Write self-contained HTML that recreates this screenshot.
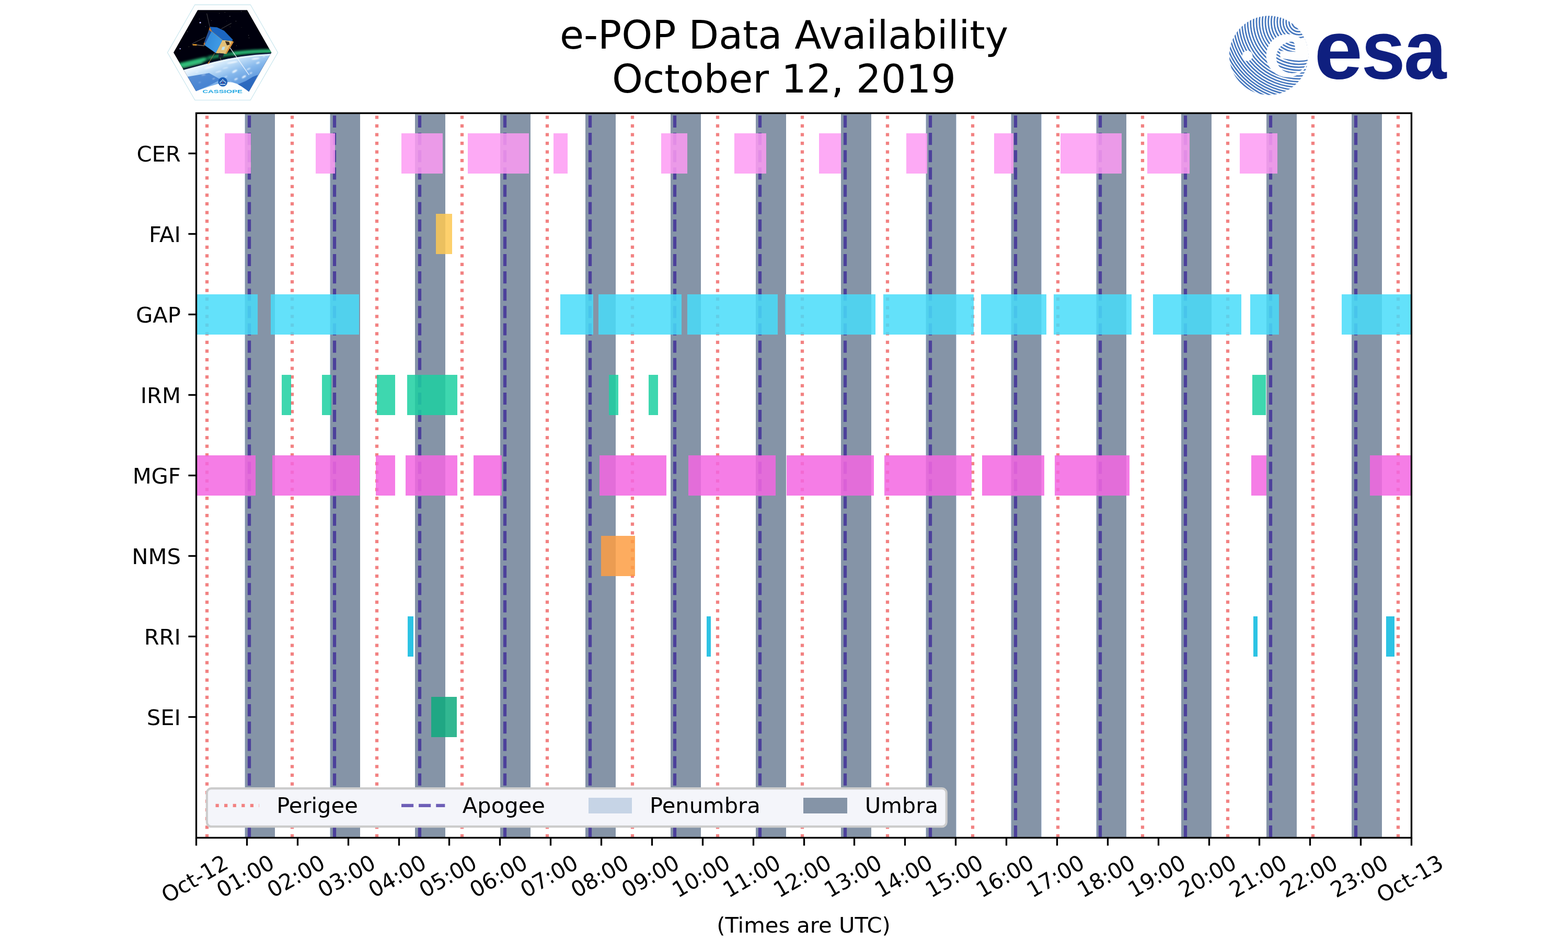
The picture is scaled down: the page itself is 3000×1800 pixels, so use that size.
<!DOCTYPE html>
<html lang="en"><head><meta charset="utf-8"><title>e-POP Data Availability - October 12, 2019</title>
<style>html,body{margin:0;padding:0;background:#fff}svg{display:block}text{font-family:"DejaVu Sans","Liberation Sans",sans-serif;fill:#000}</style></head>
<body><svg xmlns="http://www.w3.org/2000/svg" width="3000" height="1800" viewBox="0 0 3000 1800">
<rect x="0" y="0" width="3000" height="1800" fill="#ffffff"/>
<g id="cassiope">
<defs>
<clipPath id="hexin"><polygon points="332,100.4 378.3,19.2 472.9,19.2 519.3,100.4 476.1,175.4 375.1,174.6"/></clipPath>
<linearGradient id="earthg" gradientUnits="userSpaceOnUse" x1="420" y1="112" x2="445" y2="180"><stop offset="0" stop-color="#eef7fe"/><stop offset="0.2" stop-color="#c4e0f8"/><stop offset="0.5" stop-color="#86b8ec"/><stop offset="1" stop-color="#4a88d6"/></linearGradient>
<linearGradient id="panelg" x1="0" y1="0" x2="1" y2="0.3"><stop offset="0" stop-color="#2f86d6"/><stop offset="1" stop-color="#3f9be6"/></linearGradient>
<filter id="soft" x="-5%" y="-5%" width="110%" height="110%"><feGaussianBlur stdDeviation="0.7"/></filter>
<filter id="soft2" x="-20%" y="-20%" width="140%" height="140%"><feGaussianBlur stdDeviation="2.2"/></filter>
<filter id="soft3" x="-20%" y="-20%" width="140%" height="140%"><feGaussianBlur stdDeviation="1.1"/></filter>
</defs>
<polygon points="320.4,100.4 372.9,9.1 479.2,9.1 531.6,100.4 479.2,191.5 372.9,191.5" fill="#fefefe" stroke="#c4e4ec" stroke-width="1.1"/>
<g clip-path="url(#hexin)">
<g filter="url(#soft)">
<rect x="325" y="12" width="200" height="170" fill="#03040a"/>
<circle cx="383.1" cy="43.3" r="1.5" fill="#b9b6ff"/>
<circle cx="344.7" cy="93.2" r="1.2" fill="#a9a6f0"/>
<circle cx="439.8" cy="31.2" r="0.7" fill="#8a8a9a"/>
<circle cx="451.5" cy="40.5" r="0.6" fill="#77788a"/>
<circle cx="430.2" cy="23.5" r="0.5" fill="#777"/>
<circle cx="419.6" cy="25.6" r="0.5" fill="#666"/>
<circle cx="461.5" cy="21.8" r="0.6" fill="#777"/>
<circle cx="358.4" cy="60.6" r="0.6" fill="#777"/>
<circle cx="393.1" cy="50.8" r="0.6" fill="#666"/>
<circle cx="475.6" cy="67.5" r="0.6" fill="#888"/>
<circle cx="476.5" cy="72.6" r="0.5" fill="#777"/>
<circle cx="452.4" cy="87.4" r="0.5" fill="#777"/>
<circle cx="381.4" cy="36.2" r="0.5" fill="#666"/>
<circle cx="404.6" cy="39.3" r="0.5" fill="#666"/>
<circle cx="440.3" cy="51" r="0.5" fill="#666"/>
<circle cx="361.4" cy="89.3" r="0.5" fill="#666"/>
<circle cx="462" cy="52.5" r="0.4" fill="#555"/>
<circle cx="433.6" cy="40.6" r="0.4" fill="#555"/>
</g>
<g filter="url(#soft2)" fill="none" stroke-linecap="round">
<path d="M330 127 C 360 120, 400 110, 440 104 S 500 98, 525 98" stroke="#0c6f45" stroke-width="7" opacity="0.9"/>
<path d="M336 127 C 350 124, 370 119, 390 114" stroke="#2fc47c" stroke-width="8" opacity="0.95"/>
<path d="M350 129 C 362 126, 374 123, 386 120" stroke="#49d08c" stroke-width="3.5" opacity="0.8"/>
<path d="M448 102 C 470 99.5, 495 98, 522 97.5" stroke="#2cc27a" stroke-width="6.5" opacity="0.95"/>
<path d="M400 109 C 415 106, 430 104, 445 102" stroke="#1f9f63" stroke-width="4" opacity="0.8"/>
</g>
<g filter="url(#soft)">
<path d="M340 137.5 L353.8 132.9 L382.2 125.6 L408.9 118.6 L435.6 112.4 L462.3 107.9 L489 104.8 L525 102.2 L525 185 L340 185 Z" fill="#0a1430" transform="translate(0,-2.2)"/>
<path d="M340 137.5 L353.8 132.9 L382.2 125.6 L408.9 118.6 L435.6 112.4 L462.3 107.9 L489 104.8 L525 102.2 L525 185 L340 185 Z" fill="url(#earthg)"/>
<path d="M340 137.5 L353.8 132.9 L382.2 125.6 L408.9 118.6 L435.6 112.4 L462.3 107.9 L489 104.8 L525 102.2" fill="none" stroke="#e9f5ff" stroke-width="2.6" opacity="0.9" transform="translate(0,2)"/>
<polygon points="493.41,143.36 483.63,146.91 470.29,154.92 453.5,162 468,172 476.07,175.37" fill="#2a66bd" opacity="0.95"/>
<polygon points="357.35,146.91 400.04,139.8 422.27,152.25 400.04,163.81 375.14,174.48" fill="#3b78cc" opacity="0.8"/>
</g>
<g filter="url(#soft3)" fill="#f3f9ff">
<ellipse cx="400.04" cy="129.13" rx="9.78" ry="1.42" transform="rotate(-15 400.04 129.13)" opacity="0.95"/>
<ellipse cx="444.5" cy="119.35" rx="10.67" ry="1.42" transform="rotate(-11 444.5 119.35)" opacity="0.95"/>
<ellipse cx="488.96" cy="112.23" rx="8" ry="1.42" transform="rotate(-7 488.96 112.23)" opacity="0.95"/>
<ellipse cx="417.82" cy="137.13" rx="6.22" ry="1" transform="rotate(-16 417.82 137.13)" opacity="0.85"/>
<ellipse cx="448.95" cy="136.24" rx="5.34" ry="1.99" transform="rotate(-30 448.95 136.24)" opacity="0.9"/>
<ellipse cx="466.73" cy="146.91" rx="4.45" ry="1.71" transform="rotate(-32 466.73 146.91)" opacity="0.95"/>
<ellipse cx="389.36" cy="143.36" rx="4" ry="0.71" transform="rotate(-12 389.36 143.36)" opacity="0.75"/>
<ellipse cx="493.41" cy="120.24" rx="3.56" ry="1.71" transform="rotate(-20 493.41 120.24)" opacity="0.8"/>
<ellipse cx="451.61" cy="151.36" rx="3.56" ry="1.42" transform="rotate(-28 451.61 151.36)" opacity="0.9"/>
<ellipse cx="376.91" cy="138.02" rx="3.11" ry="0.71" transform="rotate(-12 376.91 138.02)" opacity="0.75"/>
<ellipse cx="432.05" cy="146.91" rx="3.11" ry="0.85" transform="rotate(-25 432.05 146.91)" opacity="0.8"/>
<ellipse cx="504.97" cy="107.79" rx="2.67" ry="0.85" transform="rotate(-5 504.97 107.79)" opacity="0.85"/>
<ellipse cx="431.16" cy="130.02" rx="5.34" ry="0.85" transform="rotate(-14 431.16 130.02)" opacity="0.8"/>
<ellipse cx="475.62" cy="131.8" rx="4" ry="1.28" transform="rotate(-25 475.62 131.8)" opacity="0.8"/>
<ellipse cx="408.93" cy="150.47" rx="2.67" ry="0.71" transform="rotate(-20 408.93 150.47)" opacity="0.6"/>
<ellipse cx="480.07" cy="139.8" rx="2.67" ry="1.14" transform="rotate(-30 480.07 139.8)" opacity="0.85"/>
<ellipse cx="382.25" cy="157.59" rx="2.22" ry="0.57" transform="rotate(-15 382.25 157.59)" opacity="0.5"/>
<ellipse cx="440.05" cy="157.59" rx="2.67" ry="0.85" transform="rotate(-25 440.05 157.59)" opacity="0.7"/>
</g>
<g filter="url(#soft)">
<g stroke="#8a8a86" stroke-width="0.55" fill="none">
<path d="M401.37 51.13L395.59 25.79"/>
<path d="M423.16 55.14L442.72 44.46"/>
<path d="M392.48 71.14L367.13 84.04"/>
</g>
<path d="M391.14 87.59L373.36 85.55" stroke="#d9c7a0" stroke-width="0.8" fill="none"/>
<path d="M375.58 85.9L369.36 85.55" stroke="#ffab2e" stroke-width="2.2" stroke-linecap="round" fill="none"/>
<path d="M410.71 101.56L398.7 121.12" stroke="#b97b52" stroke-width="0.9" fill="none"/>
<path d="M400.48 118.46L398.08 121.84" stroke="#e08a2a" stroke-width="1.8" stroke-linecap="round" fill="none"/>
<path d="M419.6 105.12L423.16 115.79" stroke="#b99a7a" stroke-width="0.7" fill="none"/>
<path d="M438.27 88.93L476.51 143.36" stroke="#f4f8ff" stroke-width="1.5" opacity="0.85" fill="none"/>
<polygon points="401.37,51.13 405.55,59.76 391.32,86.44 389.19,85.19 398.43,61.36" fill="#c97a2e"/>
<polygon points="400.04,56.91 404.48,61.36 392.48,83.59 391.14,80.04" fill="#1d4f9c"/>
<polygon points="425.38,76.48 444.5,78.61 446.99,80.21 433.12,103.33 412.49,101.56" fill="#e2c078"/>
<polygon points="430.72,78.7 438.27,80.04 439.61,85.37 434.27,86.71" fill="#3a2a1a"/>
<polygon points="425.38,89.82 430.72,88.93 428.94,95.6 423.6,95.6" fill="#bfe3f5"/>
<polygon points="444.5,78.61 446.99,80.21 433.12,103.33 431.16,102.27" fill="#d98d35"/>
<polygon points="405.1,59.58 425.82,76.48 412.66,101.56 391.14,86.26" fill="url(#panelg)"/>
<polygon points="401.37,51.13 415.15,52.29 428.94,58.87 445.57,76.03 444.32,78.61 425.65,76.48 405.37,59.58" fill="#1a66c0"/>
<path d="M405.37 59.76L425.65 76.66" stroke="#e9a050" stroke-width="0.5" fill="none"/>
<polygon points="418.71,101.56 428.49,102.45 426.71,109.12 417.82,110.9" fill="#1b2430"/>
</g>
</g>
<path d="M373.5 177.5 L374.6 174.8 L375.1 174.5 L382.3 171.8 L400 165.6 L417.8 160.3 L435.6 157.1 L444.5 157.6 L453.4 160.3 L462.3 165.6 L471.2 171.8 L476.1 175.4 L476.6 175.7 L477.6 177.5 Z" fill="#fefefe"/>
<circle cx="426.3" cy="156.7" r="8.9" fill="#1a5db6"/>
<path d="M420.6 159.2 L426.2 151.6 L432.2 159.2" fill="none" stroke="#f2f6fb" stroke-width="0.9" stroke-linejoin="round"/>
<path d="M419.6 157.2 Q426.3 152.6 433 157.2" fill="none" stroke="#f2f6fb" stroke-width="0.6"/>
<circle cx="426.2" cy="158" r="0.9" fill="#e8283c"/>
<rect x="421.2" y="160.7" width="10.2" height="1.5" fill="#e6eef8"/>
<text transform="translate(387.4 178.3) scale(1.775 1)" style="font-family:'Liberation Sans',sans-serif;font-weight:700;font-size:8.35px;fill:#1ea6e2">CASSIOPE</text>
</g>
<g id="esa">
<defs>
<clipPath id="globe"><circle cx="2427.6" cy="106" r="75.7"/></clipPath>
<filter id="soft4" x="-5%" y="-5%" width="110%" height="110%"><feGaussianBlur stdDeviation="0.5"/></filter>
</defs>
<g filter="url(#soft4)">
<g clip-path="url(#globe)">
<g fill="none" stroke="#4678be" stroke-width="2.75">
<circle cx="2485" cy="42" r="13"/>
<circle cx="2485" cy="42" r="18.67"/>
<circle cx="2485" cy="42" r="24.34"/>
<circle cx="2485" cy="42" r="30.01"/>
<circle cx="2485" cy="42" r="35.68"/>
<circle cx="2485" cy="42" r="41.35"/>
<circle cx="2485" cy="42" r="47.02"/>
<circle cx="2485" cy="42" r="52.69"/>
<circle cx="2485" cy="42" r="58.36"/>
<circle cx="2485" cy="42" r="64.03"/>
<circle cx="2485" cy="42" r="69.7"/>
<circle cx="2485" cy="42" r="75.37"/>
<circle cx="2485" cy="42" r="81.04"/>
<circle cx="2485" cy="42" r="86.71"/>
<circle cx="2485" cy="42" r="92.36"/>
<circle cx="2485" cy="42" r="97.94"/>
<circle cx="2485" cy="42" r="103.46"/>
<circle cx="2485" cy="42" r="108.9"/>
<circle cx="2485" cy="42" r="114.29"/>
<circle cx="2485" cy="42" r="119.61"/>
<circle cx="2485" cy="42" r="124.86"/>
<circle cx="2485" cy="42" r="130.05"/>
<circle cx="2485" cy="42" r="135.18"/>
<circle cx="2485" cy="42" r="140.25"/>
<circle cx="2485" cy="42" r="145.26"/>
<circle cx="2485" cy="42" r="150.21"/>
<circle cx="2485" cy="42" r="155.16"/>
<circle cx="2485" cy="42" r="160.11"/>
</g>
<path fill-rule="evenodd" fill="#fefefe" d="M2422.4 106.5a41.3 41.3 0 1 0 82.6 0a41.3 41.3 0 1 0 -82.6 0Z M2441.8 109.8a30.2 30.2 0 1 0 60.4 0a30.2 30.2 0 1 0 -60.4 0Z"/>
<polygon points="2449.5,97.2 2478.5,99.2 2477,84 2472,76 2506,70 2506,113.6 2466,113.6 2449.5,111.5" fill="#fefefe"/>
<circle cx="2386.6" cy="106.7" r="10" fill="#fefefe"/>
</g>
</g>
<text y="150.2" style="font-family:'Liberation Sans',sans-serif;font-weight:700;font-size:160px;fill:#0f1f7f"><tspan x="2514.2" textLength="92.8" lengthAdjust="spacingAndGlyphs">e</tspan><tspan x="2604.5" textLength="84.4" lengthAdjust="spacingAndGlyphs">s</tspan><tspan x="2685.9" textLength="81.55" lengthAdjust="spacingAndGlyphs">a</tspan></text>
</g>
<defs><clipPath id="ax"><rect x="375" y="216" width="2325" height="1386"/></clipPath></defs>
<g clip-path="url(#ax)">
<rect x="468" y="216" width="1" height="1386" fill="#c3d2e6"/>
<rect x="469" y="216" width="57" height="1386" fill="#8594a7"/>
<rect x="631" y="216" width="1" height="1386" fill="#c3d2e6"/>
<rect x="632" y="216" width="57" height="1386" fill="#8594a7"/>
<rect x="794" y="216" width="58" height="1386" fill="#8594a7"/>
<rect x="957" y="216" width="58" height="1386" fill="#8594a7"/>
<rect x="1120" y="216" width="58" height="1386" fill="#8594a7"/>
<rect x="1283" y="216" width="58" height="1386" fill="#8594a7"/>
<rect x="1446" y="216" width="58" height="1386" fill="#8594a7"/>
<rect x="1609" y="216" width="58" height="1386" fill="#8594a7"/>
<rect x="1771" y="216" width="1" height="1386" fill="#c3d2e6"/>
<rect x="1829" y="216" width="1" height="1386" fill="#c3d2e6"/>
<rect x="1772" y="216" width="57" height="1386" fill="#8594a7"/>
<rect x="1934" y="216" width="1" height="1386" fill="#c3d2e6"/>
<rect x="1992" y="216" width="1" height="1386" fill="#c3d2e6"/>
<rect x="1935" y="216" width="57" height="1386" fill="#8594a7"/>
<rect x="2097" y="216" width="1" height="1386" fill="#c3d2e6"/>
<rect x="2098" y="216" width="57" height="1386" fill="#8594a7"/>
<rect x="2260" y="216" width="58" height="1386" fill="#8594a7"/>
<rect x="2423" y="216" width="58" height="1386" fill="#8594a7"/>
<rect x="2586" y="216" width="58" height="1386" fill="#8594a7"/>
<path d="M396 1602V216" stroke="#f28282" stroke-width="6.25" stroke-dasharray="6.25 10.31" fill="none"/>
<path d="M559 1602V216" stroke="#f28282" stroke-width="6.25" stroke-dasharray="6.25 10.31" fill="none"/>
<path d="M721 1602V216" stroke="#f28282" stroke-width="6.25" stroke-dasharray="6.25 10.31" fill="none"/>
<path d="M884 1602V216" stroke="#f28282" stroke-width="6.25" stroke-dasharray="6.25 10.31" fill="none"/>
<path d="M1047 1602V216" stroke="#f28282" stroke-width="6.25" stroke-dasharray="6.25 10.31" fill="none"/>
<path d="M1210 1602V216" stroke="#f28282" stroke-width="6.25" stroke-dasharray="6.25 10.31" fill="none"/>
<path d="M1373 1602V216" stroke="#f28282" stroke-width="6.25" stroke-dasharray="6.25 10.31" fill="none"/>
<path d="M1535 1602V216" stroke="#f28282" stroke-width="6.25" stroke-dasharray="6.25 10.31" fill="none"/>
<path d="M1698 1602V216" stroke="#f28282" stroke-width="6.25" stroke-dasharray="6.25 10.31" fill="none"/>
<path d="M1861 1602V216" stroke="#f28282" stroke-width="6.25" stroke-dasharray="6.25 10.31" fill="none"/>
<path d="M2024 1602V216" stroke="#f28282" stroke-width="6.25" stroke-dasharray="6.25 10.31" fill="none"/>
<path d="M2186 1602V216" stroke="#f28282" stroke-width="6.25" stroke-dasharray="6.25 10.31" fill="none"/>
<path d="M2349 1602V216" stroke="#f28282" stroke-width="6.25" stroke-dasharray="6.25 10.31" fill="none"/>
<path d="M2512 1602V216" stroke="#f28282" stroke-width="6.25" stroke-dasharray="6.25 10.31" fill="none"/>
<path d="M2675 1602V216" stroke="#f28282" stroke-width="6.25" stroke-dasharray="6.25 10.31" fill="none"/>
<path d="M477 1602V216" stroke="#4c409b" stroke-width="6.25" stroke-dasharray="23.12 10" fill="none"/>
<path d="M640 1602V216" stroke="#4c409b" stroke-width="6.25" stroke-dasharray="23.12 10" fill="none"/>
<path d="M803 1602V216" stroke="#4c409b" stroke-width="6.25" stroke-dasharray="23.12 10" fill="none"/>
<path d="M966 1602V216" stroke="#4c409b" stroke-width="6.25" stroke-dasharray="23.12 10" fill="none"/>
<path d="M1129 1602V216" stroke="#4c409b" stroke-width="6.25" stroke-dasharray="23.12 10" fill="none"/>
<path d="M1291 1602V216" stroke="#4c409b" stroke-width="6.25" stroke-dasharray="23.12 10" fill="none"/>
<path d="M1454 1602V216" stroke="#4c409b" stroke-width="6.25" stroke-dasharray="23.12 10" fill="none"/>
<path d="M1617 1602V216" stroke="#4c409b" stroke-width="6.25" stroke-dasharray="23.12 10" fill="none"/>
<path d="M1780 1602V216" stroke="#4c409b" stroke-width="6.25" stroke-dasharray="23.12 10" fill="none"/>
<path d="M1943 1602V216" stroke="#4c409b" stroke-width="6.25" stroke-dasharray="23.12 10" fill="none"/>
<path d="M2105 1602V216" stroke="#4c409b" stroke-width="6.25" stroke-dasharray="23.12 10" fill="none"/>
<path d="M2268 1602V216" stroke="#4c409b" stroke-width="6.25" stroke-dasharray="23.12 10" fill="none"/>
<path d="M2431 1602V216" stroke="#4c409b" stroke-width="6.25" stroke-dasharray="23.12 10" fill="none"/>
<path d="M2594 1602V216" stroke="#4c409b" stroke-width="6.25" stroke-dasharray="23.12 10" fill="none"/>
<g fill="#fd9bf3" fill-opacity="0.85">
<rect x="430" y="255" width="50" height="77"/>
<rect x="604" y="255" width="37" height="77"/>
<rect x="768" y="255" width="79" height="77"/>
<rect x="895" y="255" width="117" height="77"/>
<rect x="1059" y="255" width="27" height="77"/>
<rect x="1265" y="255" width="50" height="77"/>
<rect x="1405" y="255" width="61" height="77"/>
<rect x="1567" y="255" width="42" height="77"/>
<rect x="1734" y="255" width="40" height="77"/>
<rect x="1902" y="255" width="37" height="77"/>
<rect x="2029" y="255" width="117" height="77"/>
<rect x="2195" y="255" width="81" height="77"/>
<rect x="2372" y="255" width="72" height="77"/>
</g>
<g fill="#fdc852" fill-opacity="0.85">
<rect x="834" y="409" width="31" height="77"/>
</g>
<g fill="#48dcf9" fill-opacity="0.85">
<rect x="375" y="563" width="118" height="77"/>
<rect x="518" y="563" width="169" height="77"/>
<rect x="1072" y="563" width="63" height="77"/>
<rect x="1145" y="563" width="159" height="77"/>
<rect x="1315" y="563" width="173" height="77"/>
<rect x="1502" y="563" width="173" height="77"/>
<rect x="1690" y="563" width="173" height="77"/>
<rect x="1877" y="563" width="125" height="77"/>
<rect x="2016" y="563" width="149" height="77"/>
<rect x="2206" y="563" width="169" height="77"/>
<rect x="2392" y="563" width="55" height="77"/>
<rect x="2567" y="563" width="133" height="77"/>
</g>
<g fill="#1cd0a1" fill-opacity="0.85">
<rect x="539" y="717" width="18" height="77"/>
<rect x="616" y="717" width="18" height="77"/>
<rect x="721" y="717" width="35" height="77"/>
<rect x="779" y="717" width="96" height="77"/>
<rect x="1165" y="717" width="18" height="77"/>
<rect x="1241" y="717" width="18" height="77"/>
<rect x="2396" y="717" width="26" height="77"/>
</g>
<g fill="#f366e2" fill-opacity="0.85">
<rect x="375" y="871" width="114" height="77"/>
<rect x="521" y="871" width="167" height="77"/>
<rect x="719" y="871" width="37" height="77"/>
<rect x="776" y="871" width="99" height="77"/>
<rect x="906" y="871" width="54" height="77"/>
<rect x="1147" y="871" width="128" height="77"/>
<rect x="1317" y="871" width="167" height="77"/>
<rect x="1505" y="871" width="167" height="77"/>
<rect x="1692" y="871" width="167" height="77"/>
<rect x="1879" y="871" width="119" height="77"/>
<rect x="2018" y="871" width="143" height="77"/>
<rect x="2394" y="871" width="29" height="77"/>
<rect x="2621" y="871" width="79" height="77"/>
</g>
<g fill="#fd9d43" fill-opacity="0.85">
<rect x="1150" y="1025" width="65" height="77"/>
</g>
<g fill="#08b8df" fill-opacity="0.85">
<rect x="780" y="1179" width="11" height="77"/>
<rect x="1352" y="1179" width="8" height="77"/>
<rect x="2398" y="1179" width="8" height="77"/>
<rect x="2652" y="1179" width="16" height="77"/>
</g>
<g fill="#0eaa7e" fill-opacity="0.85">
<rect x="825" y="1333" width="49" height="77"/>
</g>
</g>
<g stroke="#000" stroke-width="3.33" fill="none">
<path d="M375.5 1602.5V1617.58"/>
<path d="M472.5 1602.5V1617.58"/>
<path d="M569.5 1602.5V1617.58"/>
<path d="M666.5 1602.5V1617.58"/>
<path d="M763.5 1602.5V1617.58"/>
<path d="M859.5 1602.5V1617.58"/>
<path d="M956.5 1602.5V1617.58"/>
<path d="M1053.5 1602.5V1617.58"/>
<path d="M1150.5 1602.5V1617.58"/>
<path d="M1247.5 1602.5V1617.58"/>
<path d="M1344.5 1602.5V1617.58"/>
<path d="M1441.5 1602.5V1617.58"/>
<path d="M1538.5 1602.5V1617.58"/>
<path d="M1634.5 1602.5V1617.58"/>
<path d="M1731.5 1602.5V1617.58"/>
<path d="M1828.5 1602.5V1617.58"/>
<path d="M1925.5 1602.5V1617.58"/>
<path d="M2022.5 1602.5V1617.58"/>
<path d="M2119.5 1602.5V1617.58"/>
<path d="M2216.5 1602.5V1617.58"/>
<path d="M2313.5 1602.5V1617.58"/>
<path d="M2409.5 1602.5V1617.58"/>
<path d="M2506.5 1602.5V1617.58"/>
<path d="M2603.5 1602.5V1617.58"/>
<path d="M2700.5 1602.5V1617.58"/>
<path d="M375.5 293.5H360.42"/>
<path d="M375.5 447.5H360.42"/>
<path d="M375.5 601.5H360.42"/>
<path d="M375.5 755.5H360.42"/>
<path d="M375.5 909.5H360.42"/>
<path d="M375.5 1063.5H360.42"/>
<path d="M375.5 1217.5H360.42"/>
<path d="M375.5 1371.5H360.42"/>
<rect x="375.5" y="216.5" width="2325" height="1386" stroke-linejoin="miter"/>
</g>
<rect x="395.83" y="1508.2" width="1414.88" height="72.97" rx="8.33" ry="8.33" fill="#f4f5fa" stroke="#cccccc" stroke-width="4.17"/>
<path d="M412.5 1540.92H495.83" stroke="#f28282" stroke-width="6.25" stroke-dasharray="6.25 10.31" fill="none"/>
<path d="M768 1540.92H851.33" stroke="#6e5fb7" stroke-width="6.25" stroke-dasharray="23.12 10" fill="none"/>
<rect x="1126" y="1526" width="83" height="30" fill="#c6d4e6"/>
<rect x="1537" y="1526" width="84" height="30" fill="#8594a7"/>
<g font-size="41.67px">
<text x="529.17" y="1554.83">Perigee</text>
<text x="884.85" y="1554.83">Apogee</text>
<text x="1243.03" y="1554.83">Penumbra</text>
<text x="1654.79" y="1554.83">Umbra</text>
<text x="345.83" y="308.83" text-anchor="end">CER</text>
<text x="345.83" y="462.83" text-anchor="end">FAI</text>
<text x="345.83" y="616.83" text-anchor="end">GAP</text>
<text x="345.83" y="770.83" text-anchor="end">IRM</text>
<text x="345.83" y="924.83" text-anchor="end">MGF</text>
<text x="345.83" y="1078.83" text-anchor="end">NMS</text>
<text x="345.83" y="1232.83" text-anchor="end">RRI</text>
<text x="345.83" y="1386.83" text-anchor="end">SEI</text>
<text transform="translate(319.68 1728.23) rotate(-30) scale(0.989 1)">Oct-12</text>
<text transform="translate(425.23 1718.22) rotate(-30) scale(0.989 1)">01:00</text>
<text transform="translate(522.1 1718.22) rotate(-30) scale(0.989 1)">02:00</text>
<text transform="translate(618.98 1718.22) rotate(-30) scale(0.989 1)">03:00</text>
<text transform="translate(715.85 1718.22) rotate(-30) scale(0.989 1)">04:00</text>
<text transform="translate(812.73 1718.22) rotate(-30) scale(0.989 1)">05:00</text>
<text transform="translate(909.6 1718.22) rotate(-30) scale(0.989 1)">06:00</text>
<text transform="translate(1006.48 1718.22) rotate(-30) scale(0.989 1)">07:00</text>
<text transform="translate(1103.35 1718.22) rotate(-30) scale(0.989 1)">08:00</text>
<text transform="translate(1200.23 1718.22) rotate(-30) scale(0.989 1)">09:00</text>
<text transform="translate(1297.1 1718.22) rotate(-30) scale(0.989 1)">10:00</text>
<text transform="translate(1393.98 1718.22) rotate(-30) scale(0.989 1)">11:00</text>
<text transform="translate(1490.85 1718.22) rotate(-30) scale(0.989 1)">12:00</text>
<text transform="translate(1587.73 1718.22) rotate(-30) scale(0.989 1)">13:00</text>
<text transform="translate(1684.6 1718.22) rotate(-30) scale(0.989 1)">14:00</text>
<text transform="translate(1781.48 1718.22) rotate(-30) scale(0.989 1)">15:00</text>
<text transform="translate(1878.35 1718.22) rotate(-30) scale(0.989 1)">16:00</text>
<text transform="translate(1975.23 1718.22) rotate(-30) scale(0.989 1)">17:00</text>
<text transform="translate(2072.1 1718.22) rotate(-30) scale(0.989 1)">18:00</text>
<text transform="translate(2168.98 1718.22) rotate(-30) scale(0.989 1)">19:00</text>
<text transform="translate(2265.85 1718.22) rotate(-30) scale(0.989 1)">20:00</text>
<text transform="translate(2362.73 1718.22) rotate(-30) scale(0.989 1)">21:00</text>
<text transform="translate(2459.6 1718.22) rotate(-30) scale(0.989 1)">22:00</text>
<text transform="translate(2556.48 1718.22) rotate(-30) scale(0.989 1)">23:00</text>
<text transform="translate(2644.68 1728.23) rotate(-30) scale(0.989 1)">Oct-13</text>
<text x="1537.5" y="1784.47" text-anchor="middle">(Times are UTC)</text>
</g>
<g font-size="75px">
<text x="1070.88" y="92.99">e-POP Data Availability</text>
<text x="1171.01" y="176.97">October 12, 2019</text>
</g>
</svg></body></html>
